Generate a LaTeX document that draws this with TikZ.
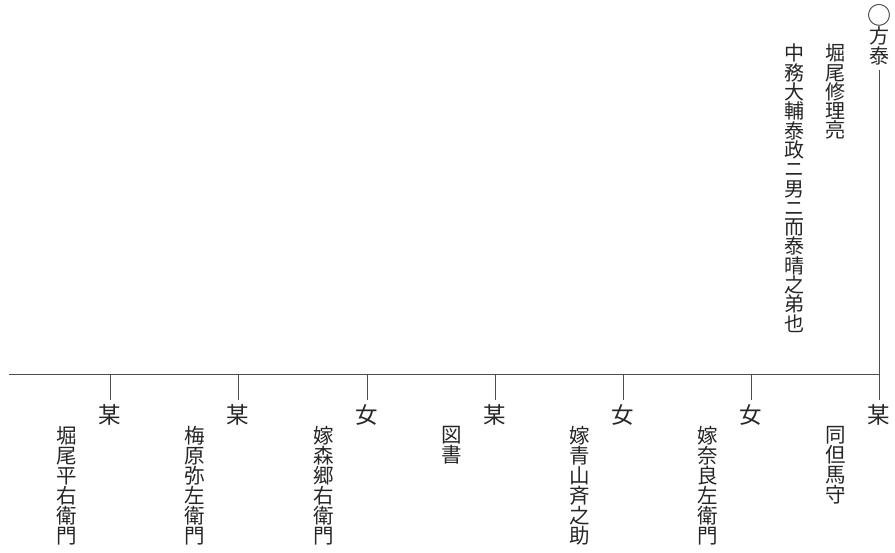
\documentclass[tikz,border=0pt]{standalone}
\usepackage{fontspec}
\setmainfont{Noto Sans CJK JP}
\usepackage{xcolor}
\usetikzlibrary{positioning}

\tikzset{
  tate/.style={align=center, inner sep=0pt, anchor=north, text=black!85,
               font=\fontsize{20.5}{20}\selectfont},
  tatesm/.style={tate, font=\fontsize{20}{19.3}\selectfont},
  kind/.style={inner xsep=0pt, inner ysep=4pt, text=black!85,
               font=\fontsize{22.5}{22}\selectfont},
  keizu/.style={draw=black!70, line width=1pt}
}

\begin{document}
\begin{tikzpicture}[x=1pt, y=-1pt]
  \useasboundingbox (0,0) rectangle (895,553);
  % oya
  \node[tate, font=\fontsize{20}{18}\selectfont] (oya) at (879,4)
       {{\fontsize{24}{18}\selectfont ○}\\方\\泰};
  \node[tatesm] (oya-a) at (835,44) {堀\\尾\\修\\理\\亮};
  \node[tatesm] (oya-b) at (794,44)
       {中\\務\\大\\輔\\泰\\政\\ニ\\男\\ニ\\而\\泰\\晴\\之\\弟\\也};
  \coordinate (bar-l) at (9,375);
  % kodomo
  \foreach \x/\kd/\mei [count=\i] in {
      110/某/{堀\\尾\\平\\右\\衛\\門},
      238/某/{梅\\原\\弥\\左\\衛\\門},
      367/女/{嫁\\森\\郷\\右\\衛\\門},
      495/某/{図\\書},
      623/女/{嫁\\青\\山\\斉\\之\\助},
      751/女/{嫁\\奈\\良\\左\\衛\\門},
      879/某/{同\\但\\馬\\守}}{
    \coordinate (ko\i) at (\x,375);
    \node[kind, below=25pt of ko\i] (sei\i) {\kd};
    \node[tate] (mei\i) at (\x-43,426) {\mei};
    \draw[keizu] (ko\i) -- (sei\i);
  }
  \draw[keizu] ([yshift=-5pt]oya.south) -- (ko7);
  \draw[keizu] (bar-l) -- (ko7);
\end{tikzpicture}
\end{document}
